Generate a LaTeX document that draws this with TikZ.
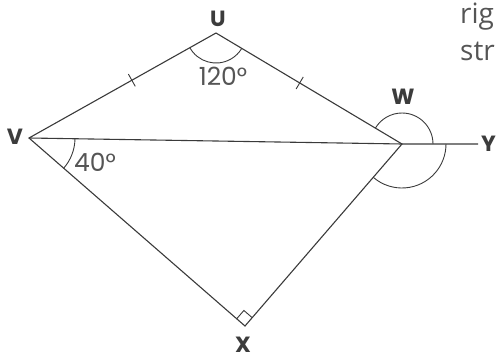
\documentclass[tikz,border=0pt]{standalone}
\usepackage{fontspec}
\setmainfont{Poppins}
\newfontfamily\txtfont{Open Sans}
\usetikzlibrary{calc}
\definecolor{ln}{HTML}{3A3A3A}
\definecolor{lbl}{HTML}{3C3C3C}
\definecolor{num}{HTML}{555555}
\tikzset{
  edge/.style={draw=ln, line width=1.1pt},
  thinmark/.style={draw=ln, line width=0.9pt},
  vlabel/.style={text=lbl, font=\fontsize{22}{22}\selectfont\bfseries, inner sep=0pt},
  anglabel/.style={text=num, font=\fontsize{25}{25}\selectfont, inner sep=0pt},
  sidetext/.style={text=num, font=\txtfont\fontsize{28}{28}\selectfont, inner sep=0pt, anchor=base west}
}
\begin{document}
\begin{tikzpicture}[x=1pt,y=1pt]
\useasboundingbox (0,0) rectangle (496,360);
\clip (0,0) rectangle (496,360);
% vertices
\coordinate (V) at (29,222);
\coordinate (U) at (216,327);
\coordinate (W) at (402,216);
\coordinate (X) at (245,34);
\coordinate (Yend) at (478,216);
% sides
\draw[edge] (V) -- (U) -- (W) -- (X) -- cycle;
\draw[edge] (V) -- (W) -- (Yend);
% equal-length ticks
\coordinate (t1) at ($(U)!0.45!(V)$);
\coordinate (t2) at ($(U)!0.45!(W)$);
\draw[thinmark] ($(t1)!7pt!90:(U)$) -- ($(t1)!7pt!-90:(U)$);
\draw[thinmark] ($(t2)!7pt!90:(U)$) -- ($(t2)!7pt!-90:(U)$);
% angle arcs
\draw[thinmark] ($(U)+(209.3:30pt)$) arc[start angle=209.3, end angle=329.2, radius=30pt];
\draw[thinmark] ($(V)+(-41:46pt)$) arc[start angle=-41, end angle=-0.9, radius=46pt];
\draw[thinmark] ($(W)+(0:31pt)$) arc[start angle=0, end angle=149.2, radius=31pt];
\draw[thinmark] ($(W)+(229.2:44pt)$) arc[start angle=229.2, end angle=360, radius=44pt];
% right angle at X
\coordinate (ra1) at ($(X)!11pt!(V)$);
\coordinate (ra2) at ($(X)!11pt!(W)$);
\draw[thinmark] (ra1) -- ($(ra1)+(ra2)-(X)$) -- (ra2);
% labels
\node[vlabel] (lU) at (218,341) {U};
\node[vlabel] (lV) at (15,223) {V};
\node[vlabel] (lW) at (403,263) {W};
\node[vlabel] (lX) at (243,15) {X};
\node[vlabel, anchor=west] (lY) at (481,216) {Y};
\node[anglabel] (a120) at (223,284) {120°};
\node[anglabel] (a40) at (95,198) {40°};
\node[sidetext] (r1) at (460,337) {rig};
\node[sidetext] (r2) at (460,300) {str};
\end{tikzpicture}
\end{document}
